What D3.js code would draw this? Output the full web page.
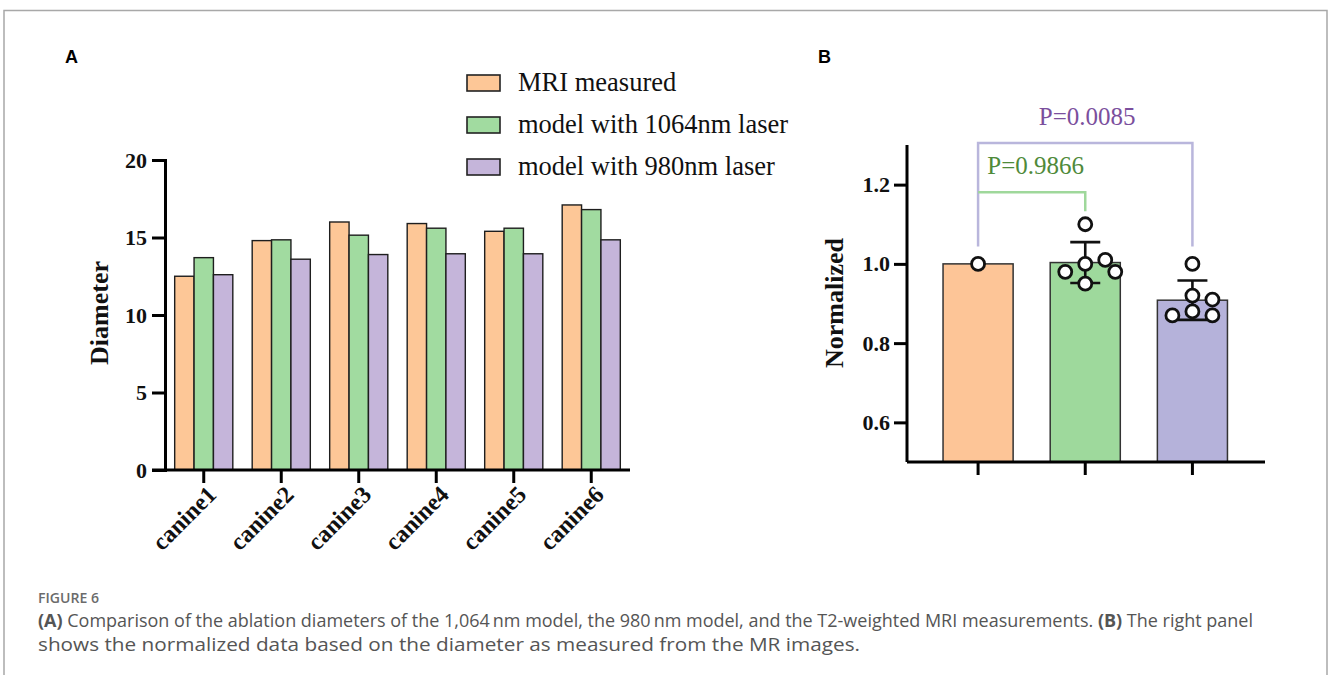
<!DOCTYPE html>
<html>
<head>
<meta charset="utf-8">
<script src="https://cdn.jsdelivr.net/npm/d3@7"></script>
<style>
  body { margin: 0; background: #fff; }
  svg { display: block; }
</style>
</head>
<body>
<div id="fig"></div>
<script>
// ---- data ----
const canines = ["canine1", "canine2", "canine3", "canine4", "canine5", "canine6"];
const seriesNames = ["MRI measured", "model with 1064nm laser", "model with 980nm laser"];
const mriMeasured = [12.5, 14.8, 16.0, 15.9, 15.4, 17.1];
const model1064 = [13.7, 14.85, 15.15, 15.6, 15.6, 16.8];
const model980 = [12.6, 13.6, 13.9, 13.95, 13.95, 14.85];
const diameterTicks = [0, 5, 10, 15, 20];

const groupsB = ["MRI", "1064", "980"];
const normMRI = [1.0];
const norm1064 = [1.10, 1.00, 1.01, 0.95, 0.98, 0.98];
const norm980 = [1.00, 0.92, 0.88, 0.87, 0.91, 0.87];
const normalizedTicks = [0.6, 0.8, 1.0, 1.2];
// significance brackets: from group, to group, bar level, left/right foot levels
const brackets = [
  {from: "MRI", to: "980", level: 1.305, footL: 1.044, footR: 1.044, label: "P=0.0085"},
  {from: "MRI", to: "1064", level: 1.181, footL: 1.181, footR: 1.133, label: "P=0.9866"}
];

const colorsA = ["#fdc797", "#a1dba0", "#c5b5da"];
const colorsB = ["#fdc597", "#9ed99c", "#b5b2da"];
const serif = "'Liberation Serif', 'Times New Roman', serif";

const svg = d3.select("#fig").append("svg")
  .attr("width", 1328)
  .attr("height", 675);

// frame
svg.append("path")
  .attr("d", "M4,675 V10.5 H1327 V675")
  .attr("fill", "none")
  .attr("stroke", "#a8a8a8")
  .attr("stroke-width", 1.5);

// panel letters
svg.append("text").attr("x", 65).attr("y", 63).text("A")
  .attr("font-family", "'Liberation Sans', Arial, sans-serif").attr("font-weight", "bold").attr("font-size", 18);
svg.append("text").attr("x", 818).attr("y", 63).text("B")
  .attr("font-family", "'Liberation Sans', Arial, sans-serif").attr("font-weight", "bold").attr("font-size", 18);

// ---------- panel A ----------
const yA = d3.scaleLinear().domain([0, 20]).range([470, 160]);
const xA = d3.scaleBand().domain(canines).range([165, 630]).paddingInner(0.25).paddingOuter(0.125);
const xSub = d3.scaleBand().domain(seriesNames).range([0, xA.bandwidth()]);
const seriesA = [mriMeasured, model1064, model980];

const gA = svg.append("g");
canines.forEach((c, i) => {
  gA.selectAll(null)
    .data(seriesNames.map((s, k) => ({s, k, v: seriesA[k][i]})))
    .join("rect")
    .attr("x", d => xA(c) + xSub(d.s))
    .attr("y", d => yA(d.v))
    .attr("width", xSub.bandwidth())
    .attr("height", d => yA(0) - yA(d.v))
    .attr("fill", d => colorsA[d.k])
    .attr("stroke", "#1e1e1e")
    .attr("stroke-width", 1.4);
});

const yAxisA = gA.append("g")
  .attr("transform", "translate(165,0)")
  .call(d3.axisLeft(yA).tickValues(diameterTicks).tickSize(13).tickPadding(5));
const xAxisA = gA.append("g")
  .attr("transform", "translate(0,470)")
  .call(d3.axisBottom(xA).tickSize(13).tickFormat(""));
xAxisA.select(".domain").attr("d", "M152,0 H630");

[yAxisA, xAxisA].forEach(ax => {
  ax.select(".domain").attr("stroke", "#000").attr("stroke-width", 3);
  ax.selectAll(".tick line").attr("stroke", "#000").attr("stroke-width", 3);
  ax.selectAll("text").attr("font-family", serif).attr("font-weight", "bold").attr("font-size", 22).attr("fill", "#111");
});

gA.selectAll("text.xlab")
  .data(canines)
  .join("text")
  .attr("class", "xlab")
  .attr("transform", d => `translate(${xA(d) + xA.bandwidth() / 2 + 14},${496}) rotate(-45)`)
  .attr("text-anchor", "end")
  .attr("font-family", serif)
  .attr("font-weight", "bold")
  .attr("font-size", 24)
  .attr("fill", "#111")
  .text(d => d);

gA.append("text")
  .attr("transform", "translate(108,313) rotate(-90)")
  .attr("text-anchor", "middle")
  .attr("font-family", serif).attr("font-weight", "bold").attr("font-size", 26)
  .attr("fill", "#111")
  .text("Diameter");

// legend
const legend = gA.selectAll("g.leg")
  .data(seriesNames)
  .join("g")
  .attr("class", "leg")
  .attr("transform", (d, i) => `translate(467,${83 + i * 42})`);
legend.append("rect")
  .attr("x", 0).attr("y", -8).attr("width", 33).attr("height", 16)
  .attr("fill", (d, i) => colorsA[i])
  .attr("stroke", "#222").attr("stroke-width", 1.6);
legend.append("text")
  .attr("x", 51).attr("y", 8)
  .attr("font-family", serif).attr("font-size", 26.5).attr("fill", "#111")
  .text(d => d);

// ---------- panel B ----------
const yB = d3.scaleLinear().domain([0.5, 1.3]).range([462, 145]);
const xB = d3.scaleBand().domain(groupsB).range([924.5, 1246]).paddingInner(0.346).paddingOuter(0.173);
const pointsB = [normMRI, norm1064, norm980];
const cx = g => xB(g) + xB.bandwidth() / 2;

const statsB = groupsB.map((g, i) => {
  const vals = pointsB[i];
  return {g, i, mean: d3.mean(vals), sd: vals.length > 1 ? d3.deviation(vals) : 0, vals};
});

const gB = svg.append("g");
gB.selectAll("rect.barB")
  .data(statsB)
  .join("rect")
  .attr("class", "barB")
  .attr("x", d => xB(d.g))
  .attr("y", d => yB(d.mean))
  .attr("width", xB.bandwidth())
  .attr("height", d => yB(0.5) - yB(d.mean))
  .attr("fill", d => colorsB[d.i])
  .attr("stroke", "#333")
  .attr("stroke-width", 1.5);

// error bars (mean +/- SD)
const capW = 30;
statsB.filter(d => d.sd > 0).forEach(d => {
  const x = cx(d.g);
  gB.append("path")
    .attr("d", `M${x},${yB(d.mean - d.sd)} V${yB(d.mean + d.sd)} M${x - capW / 2},${yB(d.mean + d.sd)} H${x + capW / 2} M${x - capW / 2},${yB(d.mean - d.sd)} H${x + capW / 2}`)
    .attr("fill", "none")
    .attr("stroke", "#111")
    .attr("stroke-width", 2.6);
});

// simple swarm layout for the dots (tries centre, then right, then left)
const r = 6.5, step = 10, minDist = 2 * r + 2;
const dots = [];
statsB.forEach(d => {
  const placed = [];
  d.vals.forEach(v => {
    const y = yB(v);
    let off = 0;
    for (let k = 0; k < 30; k++) {
      const cand = k === 0 ? 0 : (k % 2 ? 1 : -1) * Math.ceil(k / 2) * step;
      if (placed.every(p => Math.hypot(p.off - cand, p.y - y) >= minDist)) { off = cand; break; }
    }
    placed.push({off, y});
    dots.push({x: cx(d.g) + off, y});
  });
});
gB.selectAll("circle")
  .data(dots)
  .join("circle")
  .attr("cx", d => d.x)
  .attr("cy", d => d.y)
  .attr("r", r)
  .attr("fill", "#fff")
  .attr("stroke", "#111")
  .attr("stroke-width", 2.8);

const yAxisB = gB.append("g")
  .attr("transform", "translate(907,0)")
  .call(d3.axisLeft(yB).tickValues(normalizedTicks).tickFormat(d3.format(".1f")).tickSize(13).tickPadding(4));
const xAxisB = gB.append("g")
  .attr("transform", "translate(0,462)")
  .call(d3.axisBottom(xB).tickSize(13).tickFormat(""));
xAxisB.select(".domain").attr("d", "M907,0 H1265");
yAxisB.select(".domain").attr("d", `M0,${yB(0.5)} V${yB(1.3)}`);

[yAxisB, xAxisB].forEach(ax => {
  ax.select(".domain").attr("stroke", "#000").attr("stroke-width", 3);
  ax.selectAll(".tick line").attr("stroke", "#000").attr("stroke-width", 3);
  ax.selectAll("text").attr("font-family", serif).attr("font-weight", "bold").attr("font-size", 22).attr("fill", "#111");
});

gB.append("text")
  .attr("transform", "translate(843,303) rotate(-90)")
  .attr("text-anchor", "middle")
  .attr("font-family", serif).attr("font-weight", "bold").attr("font-size", 26)
  .attr("fill", "#111")
  .text("Normalized");

// brackets
const bracketColors = ["#b9b6dc", "#9fd89b"];
const labelColors = ["#7b4f9d", "#4f8a3a"];
brackets.forEach((b, i) => {
  const x1 = cx(b.from), x2 = cx(b.to);
  gB.append("path")
    .attr("d", `M${x1},${yB(b.footL)} V${yB(b.level)} H${x2} V${yB(b.footR)}`)
    .attr("fill", "none")
    .attr("stroke", bracketColors[i])
    .attr("stroke-width", 2.5);
  gB.append("text")
    .attr("x", (x1 + x2) / 2 + (i === 0 ? 2 : 4))
    .attr("y", yB(b.level) - 18)
    .attr("text-anchor", "middle")
    .attr("font-family", serif).attr("font-size", 25)
    .attr("fill", labelColors[i])
    .text(b.label);
});

// ---------- caption ----------
const cap = svg.append("g").attr("font-family", "'Open Sans', sans-serif");
cap.append("text").attr("x", 38).attr("y", 603)
  .attr("font-size", 14.5).attr("font-weight", 600).attr("fill", "#6b6b6b")
  .attr("textLength", 61).attr("lengthAdjust", "spacingAndGlyphs")
  .text("FIGURE 6");
const line1 = cap.append("text").attr("x", 38).attr("y", 627)
  .attr("font-size", 18).attr("fill", "#555")
  .attr("textLength", 1215).attr("lengthAdjust", "spacingAndGlyphs");
line1.append("tspan").attr("font-weight", "bold").text("(A)");
line1.append("tspan").text(" Comparison of the ablation diameters of the 1,064\u2009nm model, the 980\u2009nm model, and the T2-weighted MRI measurements. ");
line1.append("tspan").attr("font-weight", "bold").text("(B)");
line1.append("tspan").text(" The right panel");
cap.append("text").attr("x", 38).attr("y", 651)
  .attr("font-size", 18).attr("fill", "#555")
  .attr("textLength", 822).attr("lengthAdjust", "spacingAndGlyphs")
  .text("shows the normalized data based on the diameter as measured from the MR images.");
</script>
</body>
</html>
